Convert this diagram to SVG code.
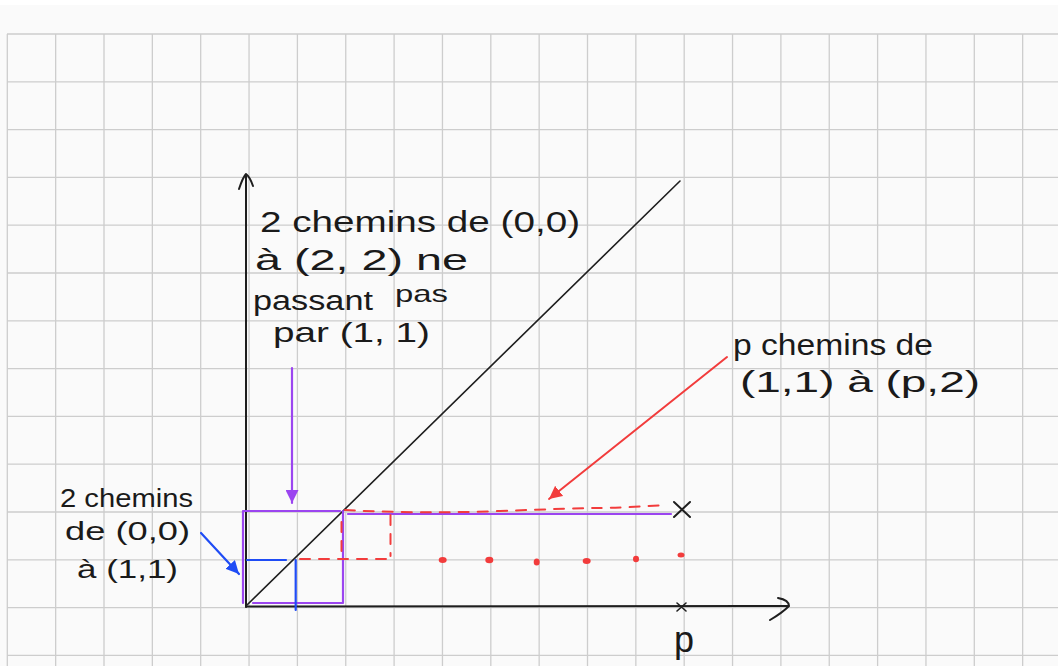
<svg xmlns="http://www.w3.org/2000/svg" width="1058" height="666" viewBox="0 0 1058 666">
<defs>
<style>
.grid line{stroke:#cdcdcd;stroke-width:1.3}
.ink{fill:none;stroke:#1e1e1e;stroke-width:2;stroke-linecap:round;stroke-linejoin:round}
.pur{fill:none;stroke:#9b45f0;stroke-width:2.2;stroke-linecap:round}
.blu{fill:none;stroke:#1f4cf5;stroke-width:2.2;stroke-linecap:round}
.red{fill:none;stroke:#f23c3c;stroke-width:2;stroke-linecap:round}
.dash{stroke-dasharray:10 9}
.dot{fill:#f23c3c}
.hand{font-family:"Liberation Sans","DejaVu Sans",sans-serif;fill:#1a1a1a;font-size:30px}
.small{font-size:26px}
</style>
<marker id="ah-pur" viewBox="0 0 10 10" refX="10" refY="5" markerWidth="13" markerHeight="13" markerUnits="userSpaceOnUse" orient="auto"><path d="M0,0 L10,5 L0,10 z" fill="#9b45f0"/></marker>
<marker id="ah-blu" viewBox="0 0 10 10" refX="10" refY="5" markerWidth="13" markerHeight="13" markerUnits="userSpaceOnUse" orient="auto"><path d="M0,0 L10,5 L0,10 z" fill="#1f4cf5"/></marker>
<marker id="ah-red" viewBox="0 0 10 10" refX="10" refY="5" markerWidth="13" markerHeight="13" markerUnits="userSpaceOnUse" orient="auto"><path d="M0,0 L10,5 L0,10 z" fill="#f23c3c"/></marker>
</defs>
<rect x="0" y="0" width="1058" height="666" fill="#fafafa"/>
<rect x="0" y="0" width="1058" height="5" fill="#ffffff"/>
<g class="grid">
<line x1="7.3" y1="34" x2="7.3" y2="666"/><line x1="55.65" y1="34" x2="55.65" y2="666"/><line x1="104" y1="34" x2="104" y2="666"/><line x1="152.35" y1="34" x2="152.35" y2="666"/><line x1="200.7" y1="34" x2="200.7" y2="666"/><line x1="249.05" y1="34" x2="249.05" y2="666"/><line x1="297.4" y1="34" x2="297.4" y2="666"/><line x1="345.75" y1="34" x2="345.75" y2="666"/><line x1="394.1" y1="34" x2="394.1" y2="666"/><line x1="442.45" y1="34" x2="442.45" y2="666"/><line x1="490.8" y1="34" x2="490.8" y2="666"/><line x1="539.15" y1="34" x2="539.15" y2="666"/><line x1="587.5" y1="34" x2="587.5" y2="666"/><line x1="635.85" y1="34" x2="635.85" y2="666"/><line x1="684.2" y1="34" x2="684.2" y2="666"/><line x1="732.55" y1="34" x2="732.55" y2="666"/><line x1="780.9" y1="34" x2="780.9" y2="666"/><line x1="829.25" y1="34" x2="829.25" y2="666"/><line x1="877.6" y1="34" x2="877.6" y2="666"/><line x1="925.95" y1="34" x2="925.95" y2="666"/><line x1="974.3" y1="34" x2="974.3" y2="666"/><line x1="1022.65" y1="34" x2="1022.65" y2="666"/>
<line x1="7" y1="34" x2="1058" y2="34"/><line x1="7" y1="81.8" x2="1058" y2="81.8"/><line x1="7" y1="129.6" x2="1058" y2="129.6"/><line x1="7" y1="177.4" x2="1058" y2="177.4"/><line x1="7" y1="225.2" x2="1058" y2="225.2"/><line x1="7" y1="273" x2="1058" y2="273"/><line x1="7" y1="320.8" x2="1058" y2="320.8"/><line x1="7" y1="368.6" x2="1058" y2="368.6"/><line x1="7" y1="416.4" x2="1058" y2="416.4"/><line x1="7" y1="464.2" x2="1058" y2="464.2"/><line x1="7" y1="512" x2="1058" y2="512"/><line x1="7" y1="559.8" x2="1058" y2="559.8"/><line x1="7" y1="607.6" x2="1058" y2="607.6"/><line x1="7" y1="655.4" x2="1058" y2="655.4"/>
</g>
<g id="axes">
<path class="ink" d="M246,607 L246,176"/>
<path class="ink" d="M239,189 Q243,177 246,174 Q250,177 253,186"/>
<path class="ink" d="M246,606.5 L788,606"/>
<path class="ink" d="M778,598 Q789,600 789,606 Q782,613 770,620"/>
<path class="ink" d="M677,603 L686,611 M677,611 L686,603" style="stroke-width:1.6"/>
<path class="ink" d="M246,606 L680,181" style="stroke-width:1.6"/>
<text class="hand" x="684" y="652" text-anchor="middle" style="font-size:36px">p</text>
</g>
<g id="paths">
<path class="pur" d="M243,511 L243,603 M243,511 L340,511 M343,511 L343,603 M253,603 L343,603 M348,514 L671,514"/>
<path class="blu" d="M247,560 L286,560 M295.7,560 L295.7,610"/>
<path class="red dash" d="M345,510 Q420,514 500,511 T600,508 T665,505"/>
<path class="red dash" d="M341.5,522 L341.5,552"/>
<path class="red dash" d="M390.5,515 L390.5,556"/>
<path class="red dash" d="M300,559 L388,559"/>
<ellipse class="dot" cx="442.7" cy="560" rx="4" ry="3"/>
<ellipse class="dot" cx="489.3" cy="560" rx="4" ry="3.2"/>
<ellipse class="dot" cx="536.7" cy="562" rx="3" ry="3.5"/>
<ellipse class="dot" cx="586.7" cy="561" rx="4" ry="3"/>
<ellipse class="dot" cx="636" cy="559" rx="3" ry="3.2"/>
<ellipse class="dot" cx="681" cy="555" rx="3.5" ry="2.5"/>
<path class="ink" d="M674,502 L690,517 M690,502 L674,517"/>
</g>
<g id="connectors">
<line class="pur" x1="292" y1="368" x2="292" y2="503" marker-end="url(#ah-pur)"/>
<line class="blu" x1="201" y1="533" x2="239" y2="574" marker-end="url(#ah-blu)"/>
<line class="red" x1="727" y1="357" x2="549" y2="499" marker-end="url(#ah-red)"/>
</g>
<g id="label-22">
<text class="hand" x="260" y="232" textLength="320" lengthAdjust="spacingAndGlyphs">2 chemins de (0,0)</text>
<text class="hand" x="255" y="270" textLength="213" lengthAdjust="spacingAndGlyphs">à (2, 2) ne</text>
<text class="hand" x="253" y="310" textLength="120" lengthAdjust="spacingAndGlyphs" style="font-size:27px">passant</text>
<text class="hand" x="395" y="302" textLength="53" lengthAdjust="spacingAndGlyphs" style="font-size:24px">pas</text>
<text class="hand" x="273" y="342" textLength="157" lengthAdjust="spacingAndGlyphs" style="font-size:28px">par (1, 1)</text>
</g>
<g id="label-p">
<text class="hand" x="733" y="355" textLength="200" lengthAdjust="spacingAndGlyphs">p chemins de</text>
<text class="hand" x="740" y="392" textLength="240" lengthAdjust="spacingAndGlyphs">(1,1) à (p,2)</text>
</g>
<g id="label-11">
<text class="hand small" x="60" y="507" textLength="133" lengthAdjust="spacingAndGlyphs">2 chemins</text>
<text class="hand small" x="65" y="540" textLength="125" lengthAdjust="spacingAndGlyphs">de (0,0)</text>
<text class="hand small" x="77" y="578" textLength="101" lengthAdjust="spacingAndGlyphs">à (1,1)</text>
</g>
</svg>
